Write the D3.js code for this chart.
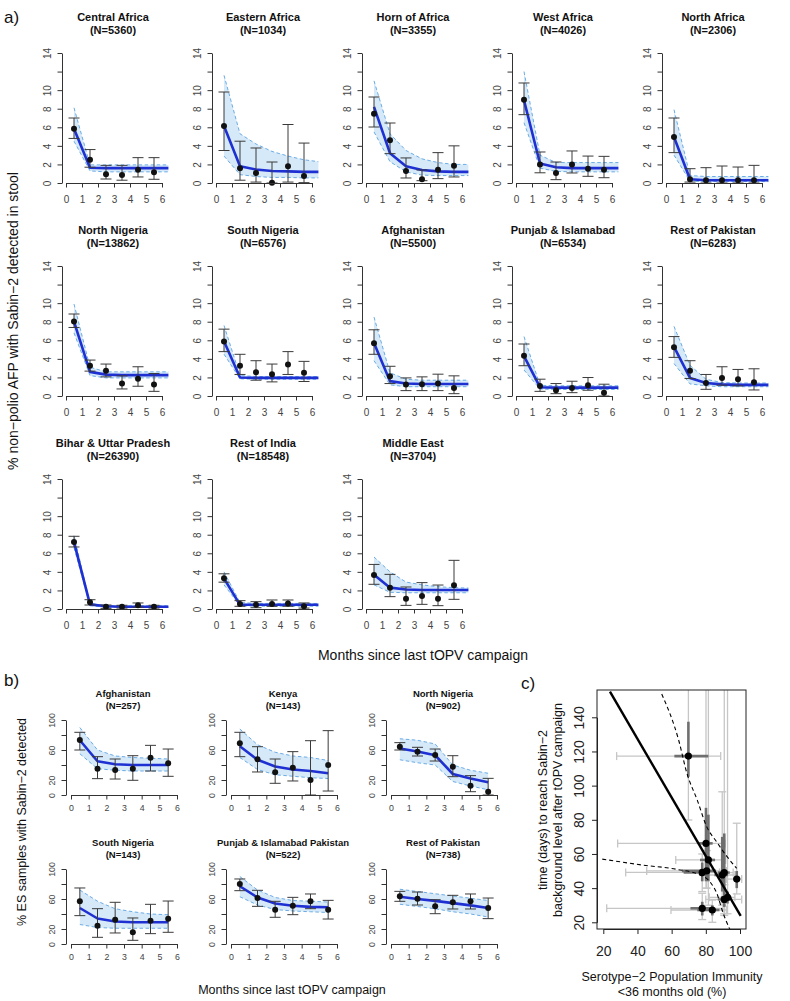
<!DOCTYPE html>
<html><head><meta charset="utf-8">
<script src="https://cdn.jsdelivr.net/npm/d3@7"></script>
<style>body{margin:0;background:#fff} svg{display:block} text{font-family:"Liberation Sans",Arial,sans-serif}</style>
</head><body><svg id="chart" width="790" height="1001"></svg>
<script>
// ---------------- DATA : panel a ----------------
const aRegions = ["Central Africa","Eastern Africa","Horn of Africa","West Africa","North Africa",
  "North Nigeria","South Nigeria","Afghanistan","Punjab & Islamabad","Rest of Pakistan",
  "Bihar & Uttar Pradesh","Rest of India","Middle East"];
const aN = [5360,1034,3355,4026,2306,13862,6576,5500,6534,6283,26390,18548,3704];
const months = [0.5,1.5,2.5,3.5,4.5,5.5];
const aFitX = [0.5,1.5,2.5,3.5,4.5,5.5,6.4];
const aObs = [
  [5.85,2.5,0.93,0.86,1.44,1.15],
  [6.14,1.6,1.08,0.04,1.8,0.75],
  [7.47,4.6,1.3,0.4,1.44,1.87],
  [8.97,2.0,1.08,2.0,1.54,1.44],
  [4.95,0.4,0.29,0.29,0.29,0.29],
  [8.03,3.26,2.71,1.34,1.85,1.23],
  [5.86,3.26,2.57,2.35,3.4,2.5],
  [5.68,2.13,1.23,1.27,1.34,0.87],
  [4.34,1.09,0.62,0.87,1.16,0.36],
  [5.25,2.71,1.41,1.95,1.81,1.48],
  [7.22,0.72,0.25,0.25,0.4,0.25],
  [3.32,0.54,0.47,0.54,0.58,0.29],
  [3.66,2.3,1.11,1.4,1.11,2.55]
];
const aObsLo = [
  [4.8,1.7,0.43,0.3,0.65,0.4],
  [3.5,0.3,0.1,0,0.1,0.04],
  [6.03,3.16,0.54,0.25,0.47,0.65],
  [7.36,1.1,0.36,1.08,0.72,0.57],
  [3.27,0.1,0,0,0,0],
  [7.38,2.68,2.06,0.76,1.05,0.5],
  [4.78,2.32,1.7,1.52,2.32,1.56],
  [4.49,1.34,0.58,0.58,0.58,0.25],
  [3.26,0.5,0.25,0.36,0.62,0],
  [4.16,1.88,0.72,1.16,1.09,0.65],
  [6.68,0.43,0.07,0.1,0.18,0.1],
  [2.89,0.29,0.14,0.29,0.29,0.1],
  [2.66,1.33,0.39,0.5,0.36,1.04]
];
const aObsHi = [
  [7.0,3.6,1.9,1.9,2.73,2.73],
  [9.8,4.5,3.77,2.26,6.3,4.3],
  [9.26,6.46,2.7,1.4,3.27,4.0],
  [10.77,3.34,2.26,3.45,2.9,2.87],
  [7.0,1.54,1.65,1.83,1.72,1.9],
  [8.83,3.87,3.44,2.17,3.15,2.42],
  [7.2,4.49,3.8,3.44,4.78,3.73],
  [7.13,3.2,1.95,2.06,2.35,2.17],
  [5.6,1.81,1.34,1.59,1.99,1.27],
  [6.4,3.8,2.32,3.15,2.86,2.93],
  [7.83,1.0,0.43,0.4,0.65,0.4],
  [3.79,0.9,0.79,0.97,0.97,0.65],
  [4.8,3.73,2.37,2.84,2.58,5.24]
];
const aFit = [
  [5.85,1.65,1.6,1.6,1.6,1.6,1.6],
  [6.14,1.8,1.45,1.3,1.25,1.2,1.2],
  [8.2,3.2,1.8,1.4,1.25,1.2,1.2],
  [8.9,2.1,1.7,1.6,1.6,1.6,1.6],
  [4.95,0.4,0.3,0.3,0.3,0.3,0.3],
  [8.0,2.6,2.3,2.25,2.25,2.25,2.25],
  [5.9,2.0,1.95,1.95,1.95,1.95,1.95],
  [5.7,1.6,1.35,1.3,1.3,1.3,1.3],
  [4.3,0.95,0.9,0.9,0.9,0.9,0.9],
  [5.3,1.95,1.4,1.25,1.2,1.2,1.2],
  [7.2,0.5,0.3,0.25,0.25,0.25,0.25],
  [3.3,0.45,0.45,0.45,0.45,0.45,0.45],
  [3.7,2.3,2.1,2.05,2.05,2.05,2.05]
];
const aFitLo = [
  [4.5,1.3,1.2,1.2,1.2,1.2,1.2],
  [2.9,0.9,0.7,0.6,0.6,0.55,0.55],
  [5.5,2.3,1.2,0.85,0.8,0.8,0.8],
  [6.5,1.6,1.25,1.2,1.2,1.2,1.2],
  [3.0,0.2,0.15,0.15,0.15,0.15,0.15],
  [6.8,2.2,1.95,1.95,1.95,1.95,1.95],
  [4.5,1.85,1.8,1.8,1.8,1.8,1.8],
  [3.8,1.2,1.0,1.0,1.0,1.0,1.0],
  [2.8,0.75,0.7,0.7,0.7,0.7,0.7],
  [3.5,1.3,1.1,1.0,1.0,1.0,1.0],
  [6.6,0.35,0.2,0.2,0.2,0.2,0.2],
  [2.6,0.35,0.3,0.3,0.3,0.3,0.3],
  [2.6,1.8,1.75,1.75,1.75,1.75,1.75]
];
const aFitHi = [
  [8.1,1.95,1.95,1.95,1.95,1.95,1.95],
  [11.6,5.3,4.2,3.4,2.9,2.5,2.3],
  [11.0,5.3,3.5,2.6,2.2,2.0,2.0],
  [12.0,3.0,2.2,2.2,2.2,2.2,2.2],
  [7.9,0.8,0.7,0.7,0.7,0.7,0.7],
  [9.9,3.1,2.6,2.6,2.6,2.6,2.6],
  [7.6,2.2,2.1,2.1,2.1,2.1,2.1],
  [8.5,2.5,1.8,1.7,1.7,1.7,1.7],
  [6.4,1.15,1.1,1.1,1.1,1.1,1.1],
  [7.5,3.3,1.8,1.45,1.4,1.4,1.4],
  [7.9,0.6,0.35,0.35,0.35,0.35,0.35],
  [4.0,0.7,0.6,0.6,0.6,0.6,0.6],
  [5.6,4.0,2.9,2.6,2.4,2.3,2.25]
];
const aYTicks = [0,2,4,6,8,10,12,14];
const aYLabels = [0,2,4,6,8,10,14];
const xTicks = [0,1,2,3,4,5,6];

// ---------------- DATA : panel b ----------------
const bRegions = ["Afghanistan","Kenya","North Nigeria","South Nigeria","Punjab & Islamabad Pakistan","Rest of Pakistan"];
const bN = [257,143,902,143,522,738];
const bObs = [
  [73.3,35.1,33.3,35.1,49.8,42.2],
  [68.9,47.6,30.2,36.4,20,40],
  [64.4,57.8,53.3,37.8,12.4,4.4],
  [56.9,24.4,32.4,15.6,31.1,33.8],
  [80,61.3,45.8,51.1,56.9,45.8],
  [63.6,60.4,50.2,55.6,56.9,48]
];
const bObsLo = [
  [60,21.8,21.3,19.6,32,24.9],
  [51.1,30.7,15.6,18.7,0,5.3],
  [60,52,45.3,24.4,4.4,0],
  [37.8,8.9,14.7,4.9,13.8,15.6],
  [71.1,50.2,35.6,39.1,47.1,33.3],
  [56.9,52,40.4,46.7,46.7,33.8]
];
const bObsHi = [
  [83.6,51.1,48,52.4,66.2,61.3],
  [83.6,64.4,48,57.8,72.4,85.8],
  [69.8,63.6,61.3,52.4,25.8,22.2],
  [74.7,47.1,55.6,34.7,52.9,57.3],
  [86.7,71.6,56.9,62.2,66.7,58.2],
  [70.2,69.3,59.1,64.9,66.7,61.3]
];
const bFit = [
  [73,45,41,40,40,40],
  [65,47,38,34,32,29],
  [62,58,53,28,22,17],
  [48,34,30,29,29,29],
  [77,62,54,51,49.5,49],
  [63,60,57.5,54.5,51.5,48]
];
const bFitLo = [
  [55,35,33,32,32,32],
  [50,34,27,25,23,22],
  [47,43,40,18,12,7],
  [26,22,21,21,21,21],
  [63,52,46,44,43,42],
  [53,50,47,43,40,36]
];
const bFitHi = [
  [90,60,52,50,49,48],
  [88,67,57,52,50,46],
  [75,73,68,40,33,29],
  [72,57,47,43,40,39],
  [90,72,62,58,57,56],
  [73,70,67,64,61,58]
];
const bYTicks = [0,20,40,60,80,100];
const bYLabels = [0,20,60,100];

// ---------------- DATA : panel c ----------------
const cX     = [69.8,80.1,81.5,77.9,80.5,89.6,90.8,98.1,90.8,92.7,77.9,83.8];
const cY     = [117.3,66.2,56.5,49.2,50.1,47.7,49.1,45.3,33.4,34.6,28.2,27.2];
const cXlo95 = [27.8,28.4,62.4,33.1,45.4,78,81,92,80,82,22,59.6];
const cXhi95 = [88.7,91.2,91.6,88,92,97,96,101,101,97,90,92];
const cXlo50 = [61.6,76,76.6,67,66,85,87,96,87,89,71,75];
const cXhi50 = [81.5,84,85.4,81,86,93,94,100,94,95,83,88];
const cYlo95 = [79.9,40,30,38,40,30,25,36.6,24,25,21.6,20];
const cYhi95 = [170,170,170,60,62,96.4,170,78,42,170,37,33];
const cYlo50 = [105.2,44,44,44,45,38,35,40,29,31,24,24];
const cYhi50 = [137.4,87,83,55,56,70,72,50,37,38,32,30];
const cLineX = [23.9,100.4];
const cLineY = [155,23.7];
const cUpperX = [54.2,64,69,75,80.5,86.4,92,98];
const cUpperY = [153.6,127,107,91.5,76,67,59,51.6];
const cLowerX = [19.4,43,63,76.6,82.4,86.4,90.2,94.2];
const cLowerY = [57,53.5,51,47.7,43.7,37,25.2,15.5];
const cXTicks = [20,40,60,80,100];
const cYTicks = [20,40,60,80,100,120,140];

// ---------------- STYLE ----------------
const FONT = '"Liberation Sans",Arial,sans-serif';
const BAND = "#d6e9f8", DASH = "#6cace6", BLUE = "#1f30d2", ERR = "#3a3a3a", AX = "#333";
const svg = d3.select("#chart");

function drawSmall(o) {
  const g = svg.append("g");
  const x = d3.scaleLinear().domain([0,6]).range([o.x0, o.x0 + 6*o.ppu]);
  const y = d3.scaleLinear().domain([0,o.yMax]).range([o.top+o.h, o.top]);
  const area = d3.area().x((d,i)=>x(o.fitX[i])).y0((d,i)=>y(o.fitLo[i])).y1((d,i)=>y(o.fitHi[i]));
  g.append("path").datum(o.fit).attr("d", area).attr("fill", BAND);
  const ln = d3.line().x((d,i)=>x(o.fitX[i])).y(d=>y(d));
  [o.fitHi, o.fitLo].forEach(arr => g.append("path").attr("d", ln(arr)).attr("fill","none")
      .attr("stroke", DASH).attr("stroke-width",1).attr("stroke-dasharray","3.5,2.5"));
  g.append("path").attr("d", ln(o.fit)).attr("fill","none").attr("stroke", BLUE)
      .attr("stroke-width", o.lw).attr("stroke-linejoin","round");
  months.forEach((m,i)=>{
    const xx = x(m);
    g.append("line").attr("x1",xx).attr("x2",xx).attr("y1",y(o.lo[i])).attr("y2",y(o.hi[i]))
      .attr("stroke",ERR).attr("stroke-width",1);
    [o.lo[i], o.hi[i]].forEach(v => g.append("line").attr("x1",xx-o.cap).attr("x2",xx+o.cap)
      .attr("y1",y(v)).attr("y2",y(v)).attr("stroke",ERR).attr("stroke-width",1));
  });
  g.selectAll("circle.pt").data(o.obs).join("circle").attr("class","pt")
    .attr("cx",(d,i)=>x(months[i])).attr("cy",d=>y(d)).attr("r",o.r).attr("fill","#111");
  // axes
  const ya = d3.axisLeft(y).tickValues(o.yTicks).tickSize(4.5).tickSizeOuter(0)
      .tickFormat(d => o.yLabels.includes(d) ? d : "");
  const yg = g.append("g").attr("transform",`translate(${o.x0 - o.gap},0)`).call(ya);
  yg.attr("color",AX).attr("font-family",FONT).attr("font-size",o.tick);
  yg.selectAll("text").attr("x",0).attr("y",0).attr("text-anchor","middle")
    .attr("transform",`translate(${-o.ylab},0) rotate(-90)`).attr("dy","0.35em").attr("fill","#444");
  const xa = d3.axisBottom(x).tickValues(xTicks).tickSize(4.5).tickSizeOuter(0).tickFormat(d3.format("d"));
  const xg = g.append("g").attr("transform",`translate(0,${o.top+o.h})`).call(xa);
  xg.attr("color",AX).attr("font-family",FONT).attr("font-size",o.tick);
  xg.selectAll("text").attr("y",o.xlab).attr("dy","0.35em").attr("fill","#444");
  // title
  const tx = o.x0 + o.tdx;
  g.append("text").attr("x",tx).attr("y",o.top - o.t1).attr("text-anchor","middle")
    .attr("font-weight","bold").attr("font-size",o.tsize).attr("fill","#111").text(o.title);
  g.append("text").attr("x",tx).attr("y",o.top - o.t2).attr("text-anchor","middle")
    .attr("font-weight","bold").attr("font-size",o.tsize).attr("fill","#111").text(`(N=${o.n})`);
}

// panel a
const aCols = [66,216,366,516,666], aRows = [53,266,479];
aRegions.forEach((r,k)=>{
  drawSmall({x0:aCols[k%5], ppu:16, top:aRows[Math.floor(k/5)], h:130, yMax:14,
    yTicks:aYTicks, yLabels:aYLabels, fitX:aFitX, fit:aFit[k], fitLo:aFitLo[k], fitHi:aFitHi[k],
    obs:aObs[k], lo:aObsLo[k], hi:aObsHi[k], title:r, n:aN[k],
    lw:2.6, cap:5.5, r:3, gap:4, ylab:15, xlab:16, tick:10, tsize:11, tdx:47, t1:32, t2:19});
});
// panel b
const bCols = [71,231,391], bRows = [720,869];
bRegions.forEach((r,k)=>{
  drawSmall({x0:bCols[k%3], ppu:106/6, top:bRows[Math.floor(k/3)], h:75, yMax:100,
    yTicks:bYTicks, yLabels:bYLabels, fitX:months, fit:bFit[k], fitLo:bFitLo[k], fitHi:bFitHi[k],
    obs:bObs[k], lo:bObsLo[k], hi:bObsHi[k], title:r, n:bN[k],
    lw:2.6, cap:5.5, r:3, gap:5, ylab:14, xlab:13, tick:8.8, tsize:9.5, tdx:52, t1:23.5, t2:11.5});
});

// panel labels & axis titles
function txt(x,y,s,size,opts={}) {
  const t = svg.append("text").attr("x",x).attr("y",y).attr("font-size",size).attr("fill","#111").text(s);
  if (opts.anchor) t.attr("text-anchor",opts.anchor);
  if (opts.rot) t.attr("transform",`rotate(-90,${x},${y})`);
  if (opts.bold) t.attr("font-weight","bold");
  return t;
}
txt(4,23,"a)",17);
txt(4,686,"b)",17);
txt(521,689,"c)",17);
txt(18,321,"% non\u2212polio AFP with Sabin\u22122 detected in stool",14,{anchor:"middle",rot:true});
txt(423,660,"Months since last tOPV campaign",14,{anchor:"middle"});
txt(26,822,"% ES samples with Sabin\u22122 detected",12.5,{anchor:"middle",rot:true});
txt(292,994,"Months since last tOPV campaign",12.5,{anchor:"middle"});

// ---------------- panel c ----------------
const cx = d3.scaleLinear().domain([20,100]).range([603.3,740]);
const cy = d3.scaleLinear().domain([20,140]).range([922.3,717.3]);
const bx0 = 597, bx1 = 746, by0 = 690, by1 = 929;
svg.append("clipPath").attr("id","cclip").append("rect")
  .attr("x",bx0).attr("y",by0).attr("width",bx1-bx0).attr("height",by1-by0);
const cg = svg.append("g").attr("clip-path","url(#cclip)");
const LIGHT = "#c6c6c6", DARK = "#6f6f6f";
cX.forEach((d,i)=>{
  cg.append("line").attr("x1",cx(cXlo95[i])).attr("x2",cx(cXhi95[i])).attr("y1",cy(cY[i])).attr("y2",cy(cY[i]))
    .attr("stroke",LIGHT).attr("stroke-width",1.3);
  [cXlo95[i],cXhi95[i]].forEach(v=>cg.append("line").attr("x1",cx(v)).attr("x2",cx(v))
    .attr("y1",cy(cY[i])-4).attr("y2",cy(cY[i])+4).attr("stroke",LIGHT).attr("stroke-width",1.3));
  cg.append("line").attr("x1",cx(d)).attr("x2",cx(d)).attr("y1",cy(cYlo95[i])).attr("y2",cy(cYhi95[i]))
    .attr("stroke",LIGHT).attr("stroke-width",1.3);
  [cYlo95[i],cYhi95[i]].forEach(v=>cg.append("line").attr("x1",cx(d)-4).attr("x2",cx(d)+4)
    .attr("y1",cy(v)).attr("y2",cy(v)).attr("stroke",LIGHT).attr("stroke-width",1.3));
});
cX.forEach((d,i)=>{
  cg.append("line").attr("x1",cx(cXlo50[i])).attr("x2",cx(cXhi50[i])).attr("y1",cy(cY[i])).attr("y2",cy(cY[i]))
    .attr("stroke",DARK).attr("stroke-width",2.6);
  cg.append("line").attr("x1",cx(d)).attr("x2",cx(d)).attr("y1",cy(cYlo50[i])).attr("y2",cy(cYhi50[i]))
    .attr("stroke",DARK).attr("stroke-width",2.6);
});
cg.append("path").attr("d", d3.line().x((d,i)=>cx(cLineX[i])).y(d=>cy(d))(cLineY))
  .attr("stroke","#000").attr("stroke-width",2.4).attr("fill","none");
const dl = (xs,ys)=> d3.line().curve(d3.curveMonotoneX).x((d,i)=>cx(xs[i])).y(d=>cy(d))(ys);
cg.append("path").attr("d", dl(cUpperX,cUpperY)).attr("stroke","#000").attr("stroke-width",1.1)
  .attr("stroke-dasharray","4,3").attr("fill","none");
cg.append("path").attr("d", dl(cLowerX,cLowerY)).attr("stroke","#000").attr("stroke-width",1.1)
  .attr("stroke-dasharray","4,3").attr("fill","none");
cg.selectAll("circle").data(cX).join("circle").attr("cx",d=>cx(d)).attr("cy",(d,i)=>cy(cY[i]))
  .attr("r",3.6).attr("fill","#000");
svg.append("rect").attr("x",bx0).attr("y",by0).attr("width",bx1-bx0).attr("height",by1-by0)
  .attr("fill","none").attr("stroke","#222").attr("stroke-width",1);
const cxa = d3.axisBottom(cx).tickValues(cXTicks).tickSize(5).tickSizeOuter(0);
const cxg = svg.append("g").attr("transform",`translate(0,${by1})`).call(cxa);
cxg.attr("color","#222").attr("font-family",FONT).attr("font-size",14);
cxg.selectAll("text").attr("y",22).attr("dy","0.35em").attr("fill","#222");
const cya = d3.axisLeft(cy).tickValues(cYTicks).tickSize(5).tickSizeOuter(0);
const cyg = svg.append("g").attr("transform",`translate(${bx0},0)`).call(cya);
cyg.attr("color","#222").attr("font-family",FONT).attr("font-size",14);
cyg.selectAll("text").attr("x",0).attr("y",0).attr("text-anchor","middle")
  .attr("transform","translate(-18,0) rotate(-90)").attr("dy","0.35em").attr("fill","#222");
txt(672,981,"Serotype\u22122 Population Immunity",12.5,{anchor:"middle"});
txt(672,996,"<36 months old (%)",12.5,{anchor:"middle"});
txt(547,810,"time (days) to reach Sabin\u22122",12.5,{anchor:"middle",rot:true});
txt(562,810,"background level after tOPV campaign",12.5,{anchor:"middle",rot:true});
</script></body></html>
